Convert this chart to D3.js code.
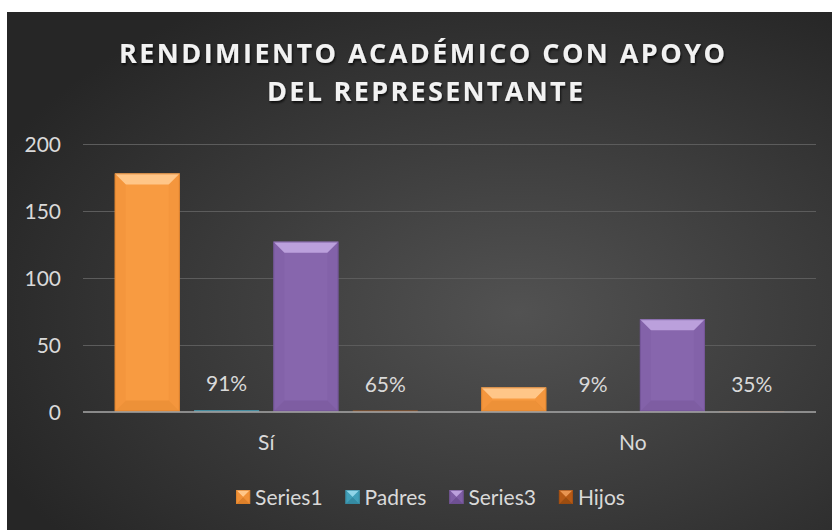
<!DOCTYPE html>
<html>
<head>
<meta charset="utf-8">
<script src="https://cdn.jsdelivr.net/npm/d3@7/dist/d3.min.js"></script>
<style>
  body { margin: 0; background: #ffffff; }
  svg { display: block; }
  text { font-family: Lato, "Open Sans", sans-serif; }
</style>
</head>
<body>
<svg id="chart" width="832" height="530"></svg>
<script>
var categories = ["Sí", "No"];
var seriesNames = ["Series1", "Padres", "Series3", "Hijos"];
var series1 = [178, 18];
var padres = [0.91, 0.09];
var series3 = [127, 69];
var hijos = [0.65, 0.35];
var yTicks = [0, 50, 100, 150, 200];
var titleLines = ["RENDIMIENTO ACADÉMICO CON APOYO", "DEL REPRESENTANTE"];

// colours: base, top bevel, bottom bevel, side bevel
var palette = {
  "Series1": ["#F89B41", "#FFC688", "#D97D28", "#EE8F36"],
  "Padres":  ["#4BACC6", "#8FD4E8", "#33879E", "#3F9CB5"],
  "Series3": ["#8766AD", "#BBA0DC", "#6C4E90", "#7D5CA3"],
  "Hijos":   ["#C4631C", "#E89450", "#984A10", "#B35815"]
};

var svg = d3.select("#chart");
var defs = svg.append("defs");

var bg = defs.append("radialGradient").attr("id", "bg")
  .attr("cx", "62%").attr("cy", "58%").attr("r", "70%");
bg.append("stop").attr("offset", "0%").attr("stop-color", "#525252");
bg.append("stop").attr("offset", "100%").attr("stop-color", "#262626");

var shadow = defs.append("filter").attr("id", "shadow")
  .attr("x", "-5%").attr("y", "-20%").attr("width", "110%").attr("height", "150%");
shadow.append("feDropShadow").attr("dx", 1).attr("dy", 2)
  .attr("stdDeviation", 1.3).attr("flood-color", "#000").attr("flood-opacity", 0.7);

svg.append("rect").attr("x", 7).attr("y", 12).attr("width", 825).attr("height", 518)
  .attr("fill", "url(#bg)");

// title
var title = svg.append("g").attr("filter", "url(#shadow)");
var titleWidths = [606, 316];
titleLines.forEach(function(line, i) {
  title.append("text")
    .attr("x", i == 0 ? 422 : 425)
    .attr("y", i == 0 ? 63 : 101)
    .attr("text-anchor", "middle")
    .attr("fill", "#f2f2f2")
    .style("font-family", "'Open Sans', sans-serif")
    .style("font-weight", "700")
    .style("font-size", "27px")
    .attr("textLength", titleWidths[i])
    .attr("lengthAdjust", "spacing")
    .text(line);
});

var y = d3.scaleLinear().domain([0, 200]).range([411.5, 144]);
var x0 = d3.scaleBand().domain(categories).range([83, 816]);
var x1 = d3.scaleBand().domain(seriesNames).range([0, x0.bandwidth()])
  .paddingInner(0.18).paddingOuter(0.4);

// gridlines
svg.append("g").selectAll("line").data(yTicks.slice(1)).enter().append("line")
  .attr("x1", 83).attr("x2", 816)
  .attr("y1", function(d) { return Math.round(y(d)) + 0.5; })
  .attr("y2", function(d) { return Math.round(y(d)) + 0.5; })
  .attr("stroke", "#5c5c5c").attr("stroke-width", 1.2);

// y axis labels
var yAxis = d3.axisLeft(y).tickValues(yTicks).tickSize(0).tickPadding(0);
var yg = svg.append("g").attr("transform", "translate(61,0)").call(yAxis);
yg.select(".domain").remove();
yg.selectAll("text").attr("fill", "#d9d9d9").style("font-size", "21px")
  .style("font-family", "Lato, sans-serif").attr("dy", "0.36em");

var table = [];
categories.forEach(function(c, i) {
  var vals = [series1[i], padres[i], series3[i], hijos[i]];
  seriesNames.forEach(function(s, j) {
    table.push({cat: c, name: s, value: vals[j]});
  });
});

function bevel(g, x, top, w, h, cols, maxB, soft) {
  var b = Math.min(maxB, h / 2, w / 2);
  g.append("rect").attr("x", x).attr("y", top).attr("width", w).attr("height", h)
    .attr("fill", cols[0]);
  if (h < 2) return;
  var r = x + w, bot = top + h;
  g.append("polygon").attr("fill", cols[1])
    .attr("points", [[x, top], [r, top], [r - b, top + b], [x + b, top + b]].join(" "));
  g.append("polygon").attr("fill", cols[2]).attr("opacity", soft ? 0.35 : 0.9)
    .attr("points", [[x, bot], [r, bot], [r - b, bot - b], [x + b, bot - b]].join(" "));
  g.append("polygon").attr("fill", cols[3]).attr("opacity", soft ? 0.4 : 0.8)
    .attr("points", [[x, top], [x + b, top + b], [x + b, bot - b], [x, bot]].join(" "));
  g.append("polygon").attr("fill", cols[3]).attr("opacity", soft ? 0.4 : 0.8)
    .attr("points", [[r, top], [r - b, top + b], [r - b, bot - b], [r, bot]].join(" "));
  g.append("rect").attr("x", x + 0.5).attr("y", top + 0.5).attr("width", w - 1).attr("height", h - 1)
    .attr("fill", "none").attr("stroke", cols[2]).attr("stroke-opacity", 0.6);
}

// bars
var bars = svg.append("g");
table.forEach(function(d) {
  var bx = x0(d.cat) + x1(d.name);
  var top = y(d.value);
  var h = y(0) - top;
  var g = bars.append("g");
  bevel(g, bx, top, x1.bandwidth(), h, palette[d.name], 11, true);
});

// axis line
svg.append("line").attr("x1", 83).attr("x2", 816)
  .attr("y1", y(0) + 0.5).attr("y2", y(0) + 0.5)
  .attr("stroke", "#a8a8a8").attr("stroke-width", 2).attr("stroke-opacity", 0.75);

// data labels for the percentage series
var pct = d3.format(".0%");
svg.append("g").selectAll("text")
  .data(table.filter(function(d) { return d.name == "Padres" || d.name == "Hijos"; }))
  .enter().append("text")
  .attr("x", function(d) { return x0(d.cat) + x1(d.name) + x1.bandwidth() / 2; })
  .attr("y", function(d) { return y(d.value) - 19; })
  .attr("text-anchor", "middle")
  .attr("fill", "#d9d9d9").style("font-size", "21px")
  .text(function(d) { return pct(d.value); });

// category labels
var xAxis = d3.axisBottom(x0).tickSize(0).tickPadding(0);
var xg = svg.append("g").attr("transform", "translate(0,442)").call(xAxis);
xg.select(".domain").remove();
xg.selectAll("text").attr("fill", "#d9d9d9").style("font-size", "21px")
  .style("font-family", "Lato, sans-serif").attr("dy", "0.36em");

// legend
var legend = svg.append("g");
var lx = 0;
var items = [];
seriesNames.forEach(function(s) {
  var item = legend.append("g");
  bevel(item, 0, -7, 14, 14, palette[s], 7, false);
  var t = item.append("text").attr("x", 19).attr("y", 0).attr("dy", "0.36em")
    .attr("fill", "#d9d9d9").style("font-size", "21px").text(s);
  items.push({g: item, w: 19 + t.node().getComputedTextLength()});
});
var total = d3.sum(items, function(d) { return d.w; }) + 23 * (items.length - 1);
lx = 430.5 - total / 2;
items.forEach(function(it) {
  it.g.attr("transform", "translate(" + lx + ",497)");
  lx += it.w + 23;
});
</script>
</body>
</html>
